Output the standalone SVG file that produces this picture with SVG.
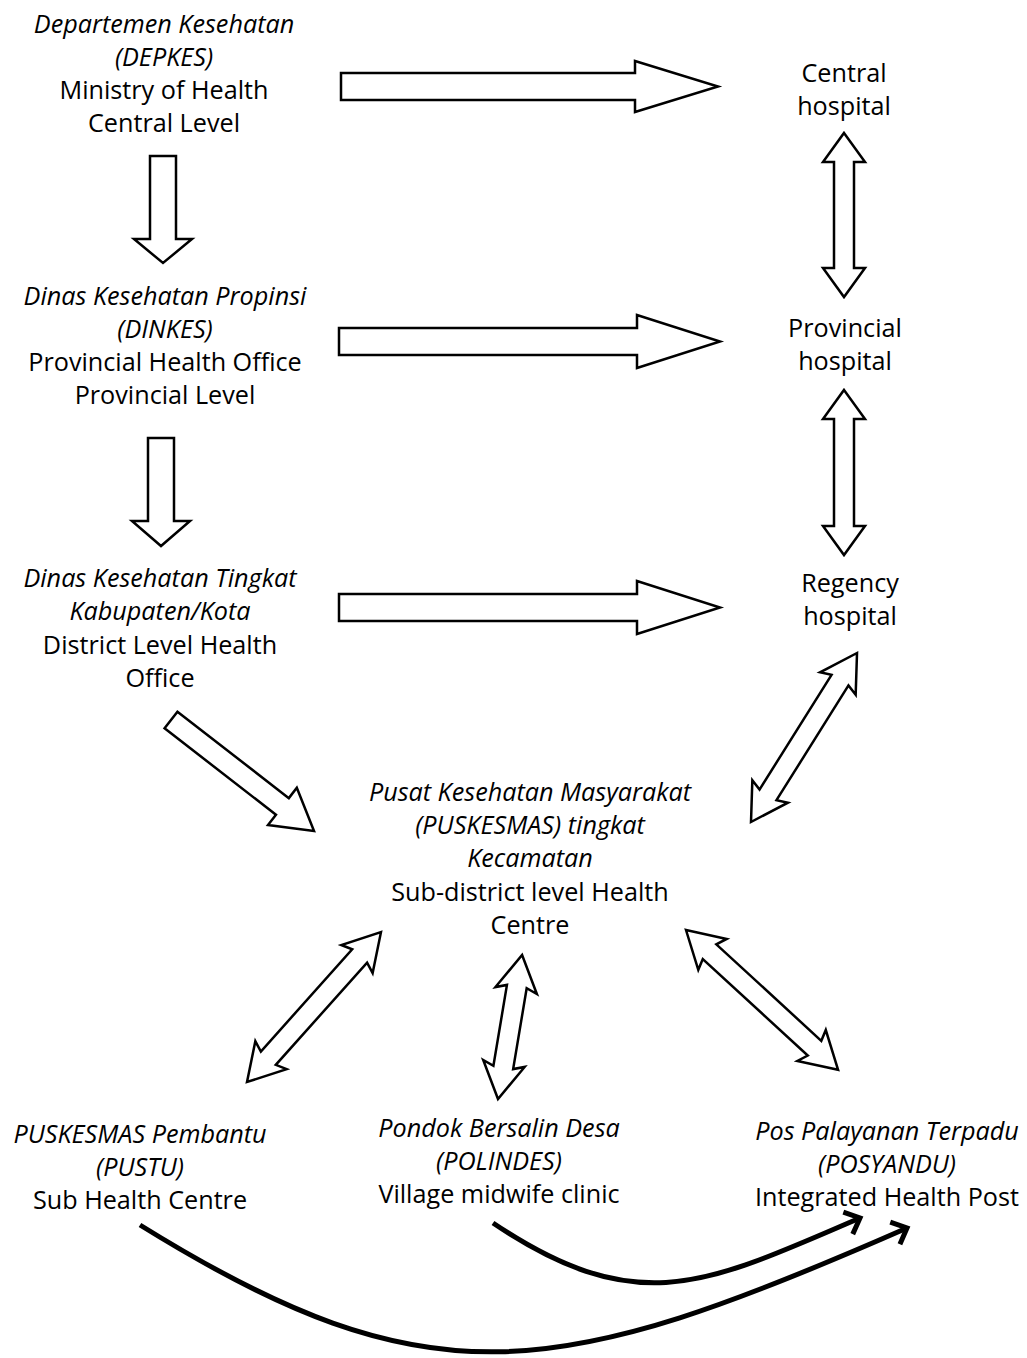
<svg xmlns="http://www.w3.org/2000/svg" width="1027" height="1358" viewBox="0 0 1027 1358">
<defs>
<style>
text{font-family:"Open Sans","Liberation Sans",sans-serif;font-size:25.2px;fill:#000;text-anchor:middle}
.i{font-style:italic}
.blk{fill:#fff;stroke:#000;stroke-width:2.5;stroke-linejoin:miter}
.crv{fill:none;stroke:#000;stroke-width:5}
</style>
<marker id="chev" markerUnits="userSpaceOnUse" markerWidth="40" markerHeight="40" refX="0" refY="0" orient="auto" overflow="visible" viewBox="-20 -20 40 40">
<path d="M-13,-12 L0,0 L-13,12" fill="none" stroke="#000" stroke-width="5"/>
</marker>
</defs>
<rect width="1027" height="1358" fill="#fff"/>

<g id="connectors">
<polygon class="blk" points="341,73 635,73 635,61 718,86.5 635,112 635,100 341,100"/>
<polygon class="blk" points="339,328 637,328 637,315 720,341.5 637,368 637,355 339,355"/>
<polygon class="blk" points="339,594 637,594 637,581 720,607.5 637,634 637,621 339,621"/>
<polygon class="blk" points="150,156 176,156 176,239 192,239 163,263 134,239 150,239"/>
<polygon class="blk" points="148,438 174,438 174,521 190,521 161,546 132,521 148,521"/>
<polygon class="blk" points="844,133 865,162 854,162 854,268 865,268 844,297 823,268 834,268 834,162 823,162"/>
<polygon class="blk" points="844,390 865,419 854,419 854,526 865,526 844,555 823,526 834,526 834,419 823,419"/>
<polygon class="blk" transform="translate(171,720) rotate(37.8)" points="0,-10.5 141,-10.5 141,-23.5 181,0 141,23.5 141,10.5 0,10.5"/>
<polygon class="blk" transform="translate(751,822) rotate(-57.9)" points="0,0 36,-21 32,-10 167.5,-10 163.5,-21 199.5,0 163.5,21 167.5,10 32,10 36,21"/>
<polygon class="blk" transform="translate(247,1082) rotate(-48.2)" points="0,0 36,-21 32,-10 169,-10 165,-21 201,0 165,21 169,10 32,10 36,21"/>
<polygon class="blk" transform="translate(498,1099) rotate(-80.5)" points="0,0 36,-21 32,-10 114,-10 110,-21 146,0 110,21 114,10 32,10 36,21"/>
<polygon class="blk" transform="translate(686,930) rotate(42.6)" points="0,0 36,-21 32,-10 174.6,-10 170.6,-21 206.6,0 170.6,21 174.6,10 32,10 36,21"/>
<path class="crv" d="M493,1223 C640,1322 710,1282 860,1218" marker-end="url(#chev)"/>
<path class="crv" d="M140,1225 C430,1405 556,1382 907,1228" marker-end="url(#chev)"/>
</g>

<g id="depkes">
<text class="i" x="164" y="33">Departemen Kesehatan</text>
<text class="i" x="164" y="66">(DEPKES)</text>
<text x="164" y="99">Ministry of Health</text>
<text x="164" y="132">Central Level</text>
</g>
<g id="dinkes">
<text class="i" x="165" y="305">Dinas Kesehatan Propinsi</text>
<text class="i" x="165" y="338">(DINKES)</text>
<text x="165" y="371">Provincial Health Office</text>
<text x="165" y="404">Provincial Level</text>
</g>
<g id="district">
<text class="i" x="160" y="587">Dinas Kesehatan Tingkat</text>
<text class="i" x="160" y="620">Kabupaten/Kota</text>
<text x="160" y="654">District Level Health</text>
<text x="160" y="687">Office</text>
</g>
<g id="central-hospital">
<text x="844" y="82">Central</text>
<text x="844" y="115">hospital</text>
</g>
<g id="provincial-hospital">
<text x="845" y="337">Provincial</text>
<text x="845" y="370">hospital</text>
</g>
<g id="regency-hospital">
<text x="850" y="592">Regency</text>
<text x="850" y="625">hospital</text>
</g>
<g id="puskesmas">
<text class="i" x="530" y="801">Pusat Kesehatan Masyarakat</text>
<text class="i" x="530" y="834">(PUSKESMAS) tingkat</text>
<text class="i" x="530" y="867">Kecamatan</text>
<text x="530" y="901">Sub-district level Health</text>
<text x="530" y="934">Centre</text>
</g>
<g id="pustu">
<text class="i" x="140" y="1143">PUSKESMAS Pembantu</text>
<text class="i" x="140" y="1176">(PUSTU)</text>
<text x="140" y="1209">Sub Health Centre</text>
</g>
<g id="polindes">
<text class="i" x="499" y="1137">Pondok Bersalin Desa</text>
<text class="i" x="499" y="1170">(POLINDES)</text>
<text x="499" y="1203">Village midwife clinic</text>
</g>
<g id="posyandu">
<text class="i" x="887" y="1140">Pos Palayanan Terpadu</text>
<text class="i" x="887" y="1173">(POSYANDU)</text>
<text x="887" y="1206">Integrated Health Post</text>
</g>
</svg>
